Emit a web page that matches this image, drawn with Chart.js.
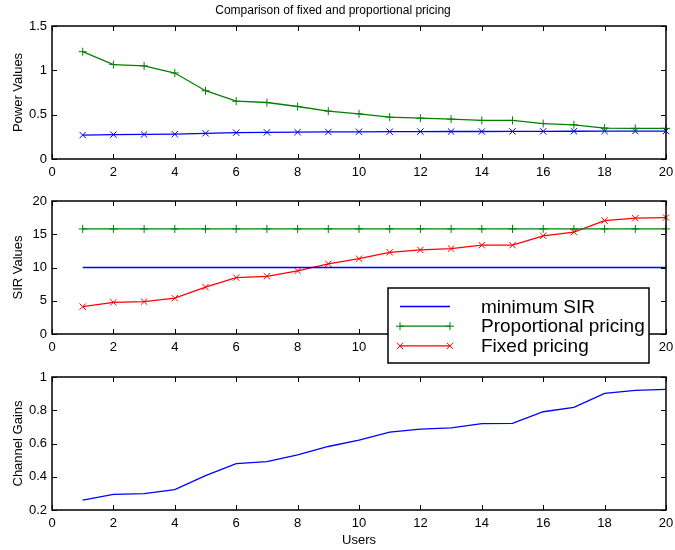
<!DOCTYPE html>
<html>
<head>
<meta charset="utf-8">
<script src="https://cdn.jsdelivr.net/npm/chart.js@4/dist/chart.umd.min.js"></script>
<style>
	body { margin:0; background:#fff; }
	#wrap { position:relative; width:675px; height:550px; }
	canvas { position:absolute; left:0; }
</style>
</head>
<body>
<div id="wrap">
	<canvas id="powerChart" width="675" height="185" style="top:0px"></canvas>
	<canvas id="sirChart" width="675" height="180" style="top:185px"></canvas>
	<canvas id="gainChart" width="675" height="185" style="top:365px"></canvas>
</div>
<script>
// data
var users = [1,2,3,4,5,6,7,8,9,10,11,12,13,14,15,16,17,18,19,20];

var powerProportional = [1.21,1.065,1.05,0.97,0.77,0.652,0.637,0.592,0.54,0.51,0.472,0.461,0.45,0.435,0.435,0.40,0.386,0.349,0.345,0.345];
var powerFixed = [0.27,0.275,0.277,0.28,0.29,0.297,0.30,0.302,0.305,0.307,0.308,0.309,0.31,0.31,0.311,0.312,0.313,0.314,0.315,0.315];

var sirMinimum = [10,10,10,10,10,10,10,10,10,10,10,10,10,10,10,10,10,10,10,10];
var sirProportional = [15.8,15.8,15.8,15.8,15.8,15.8,15.8,15.8,15.8,15.8,15.8,15.8,15.8,15.8,15.8,15.8,15.8,15.8,15.8,15.8];
var sirFixed = [4.11,4.77,4.87,5.38,7.06,8.48,8.68,9.49,10.56,11.32,12.28,12.64,12.84,13.35,13.35,14.77,15.33,17.06,17.41,17.51];

var channelGains = [0.26,0.294,0.298,0.323,0.407,0.479,0.491,0.532,0.582,0.62,0.668,0.686,0.694,0.719,0.721,0.791,0.817,0.901,0.92,0.926];

var xTicks = [0,2,4,6,8,10,12,14,16,18,20];
var powerTicks = [0,0.5,1,1.5];
var sirTicks = [0,5,10,15,20];
var gainTicks = [0.2,0.4,0.6,0.8,1];

var fontFamily = '"Liberation Sans", Arial, Helvetica, sans-serif';
var blue = '#0000ff', green = '#008000', red = '#ff0000';

var toPoints = function(values)
{
	return values.map(function(v, i){ return {x: users[i], y: v}; });
}

var series = function(label, values, color, marker)
{
	return {
		label: label,
		data: toPoints(values),
		borderColor: color,
		backgroundColor: color,
		borderWidth: 1.3,
		pointStyle: marker || false,
		pointRadius: marker ? (marker == 'cross' ? 4 : 4.5) : 0,
		pointBorderWidth: 1,
		clip: false
	};
}

// matlab style box with inward ticks
var boxPlugin = {
	id: 'box',
	afterDraw: function(chart)
	{
		var ctx = chart.ctx, a = chart.chartArea;
		var xs = chart.scales.x, ys = chart.scales.y;
		ctx.save();
		ctx.strokeStyle = '#000';
		ctx.lineWidth = 1;
		ctx.beginPath();
		xs.ticks.forEach(function(t){
			var px = Math.round(xs.getPixelForValue(t.value)) + 0.5;
			ctx.moveTo(px, a.bottom); ctx.lineTo(px, a.bottom - 5);
			ctx.moveTo(px, a.top); ctx.lineTo(px, a.top + 5);
		});
		ys.ticks.forEach(function(t){
			var py = Math.round(ys.getPixelForValue(t.value)) + 0.5;
			ctx.moveTo(a.left, py); ctx.lineTo(a.left + 5, py);
			ctx.moveTo(a.right, py); ctx.lineTo(a.right - 5, py);
		});
		ctx.stroke();
		ctx.lineWidth = 1.5;
		ctx.strokeRect(a.left, a.top, a.right - a.left, a.bottom - a.top);
		ctx.restore();
	}
};

// legend box that hangs over the x labels like the original
var boxLegend = {
	id: 'boxLegend',
	afterDraw: function(chart)
	{
		if (!chart.options.plugins.boxLegend) return;
		var ctx = chart.ctx, a = chart.chartArea;
		var x0 = a.right - 278, y0 = a.top + 87, w = 261, h = 75;
		ctx.save();
		ctx.fillStyle = '#fff';
		ctx.fillRect(x0, y0, w, h);
		ctx.strokeStyle = '#000';
		ctx.lineWidth = 1.5;
		ctx.strokeRect(x0, y0, w, h);
		ctx.font = '19px ' + fontFamily;
		ctx.textBaseline = 'middle';
		chart.data.datasets.forEach(function(ds, i){
			var y = y0 + 18.5 + i * 19.7;
			ctx.strokeStyle = ds.borderColor;
			ctx.lineWidth = 1.3;
			ctx.beginPath();
			ctx.moveTo(x0 + 12, y); ctx.lineTo(x0 + 62, y);
			ctx.stroke();
			if (ds.pointStyle) {
				ctx.lineWidth = 1;
				[x0 + 12, x0 + 62].forEach(function(px){
					Chart.helpers.drawPoint(ctx, {pointStyle: ds.pointStyle, radius: ds.pointRadius, rotation: 0, borderWidth: 1}, px, y);
				});
			}
			ctx.fillStyle = '#000';
			ctx.fillText(ds.label, x0 + 93, y + 1);
		});
		ctx.restore();
	}
};

var makeOptions = function(cfg)
{
	return {
		responsive: false,
		animation: false,
		layout: { padding: { left: 0, right: 9, top: cfg.top, bottom: 0 } },
		plugins: {
			legend: { display: false },
			tooltip: { enabled: false },
			title: cfg.title ? {
				display: true,
				text: cfg.title,
				color: '#000',
				font: { family: fontFamily, size: 12, weight: 'normal' },
				padding: { top: 3, bottom: 8.6 }
			} : { display: false },
			boxLegend: cfg.legend || false
		},
		scales: {
			x: {
				type: 'linear',
				min: 0, max: 20,
				afterBuildTicks: function(s){ s.ticks = xTicks.map(function(v){ return {value: v}; }); },
				afterFit: function(s){ s.height = cfg.xHeight; s.paddingLeft = 0; s.paddingRight = 0; },
				grid: { display: false, drawTicks: false },
				border: { display: false },
				ticks: { color: '#000', padding: 6, maxRotation: 0, font: { family: fontFamily, size: 13 }, callback: function(v){ return String(v); } },
				title: cfg.xTitle ? { display: true, text: cfg.xTitle, color: '#000', font: { family: fontFamily, size: 13 }, padding: { top: 0, bottom: 2 } } : { display: false }
			},
			y: {
				min: cfg.yTicks[0], max: cfg.yTicks[cfg.yTicks.length - 1],
				afterBuildTicks: function(s){ s.ticks = cfg.yTicks.map(function(v){ return {value: v}; }); },
				afterFit: function(s){ s.width = 52; s.paddingTop = 0; s.paddingBottom = 0; },
				grid: { display: false, drawTicks: false },
				border: { display: false },
				ticks: { color: '#000', padding: 5, font: { family: fontFamily, size: 13 }, callback: function(v){ return String(v); } },
				title: { display: true, text: cfg.yTitle, color: '#000', font: { family: fontFamily, size: 13 }, padding: { top: 11, bottom: 0 } }
			}
		}
	};
}

new Chart(document.getElementById('powerChart'), {
	type: 'line',
	data: {
		datasets: [
			series('Proportional pricing', powerProportional, green, 'cross'),
			series('Fixed pricing', powerFixed, blue, 'crossRot')
		]
	},
	options: makeOptions({ top: 0, xHeight: 26, yTicks: powerTicks, yTitle: 'Power Values', title: 'Comparison of fixed and proportional pricing' }),
	plugins: [boxPlugin]
});

new Chart(document.getElementById('sirChart'), {
	type: 'line',
	data: {
		datasets: [
			series('minimum SIR', sirMinimum, blue, null),
			series('Proportional pricing', sirProportional, green, 'cross'),
			series('Fixed pricing', sirFixed, red, 'crossRot')
		]
	},
	options: makeOptions({ top: 16, xHeight: 31, yTicks: sirTicks, yTitle: 'SIR Values', legend: true }),
	plugins: [boxPlugin, boxLegend]
});

new Chart(document.getElementById('gainChart'), {
	type: 'line',
	data: {
		datasets: [
			series('Channel gains', channelGains, blue, null)
		]
	},
	options: makeOptions({ top: 12, xHeight: 40, yTicks: gainTicks, yTitle: 'Channel Gains', xTitle: 'Users' }),
	plugins: [boxPlugin]
});
</script>
</body>
</html>
